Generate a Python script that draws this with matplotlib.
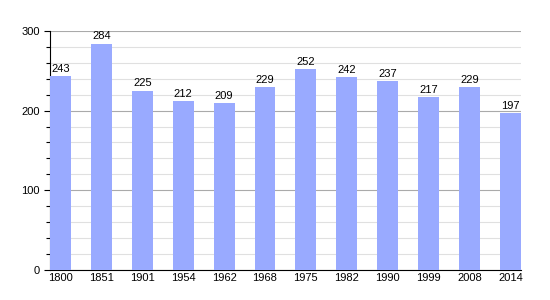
import numpy as np
from matplotlib import pyplot as plt

plt.rcParams['font.family'] = ['Liberation Sans', 'DejaVu Sans']

years = ['1800', '1851', '1901', '1954', '1962', '1968', '1975', '1982', '1990', '1999', '2008', '2014']
population = [243, 284, 225, 212, 209, 229, 252, 242, 237, 217, 229, 197]

fig = plt.figure(figsize=(5.5, 3), dpi=100)
ax = fig.add_axes([0.091, 0.1, 0.856, 0.797])

x = np.arange(len(years))
w = 0.51
ax.bar(x, population, width=w, color='#99aaff', zorder=3)
for xi, v in zip(x, population):
    ax.text(xi, v + 3, str(v), ha='center', va='bottom', fontsize=8, zorder=4)

ax.set_xlim(-w / 2, len(years) - 1 + w / 2)
ax.set_ylim(0, 300)
ax.set_yticks([0, 100, 200, 300])
ax.set_yticks(np.arange(0, 301, 20), minor=True)
ax.set_xticks(x)
ax.set_xticklabels(years)
ax.tick_params(axis='both', labelsize=8, length=4, width=0.8)
ax.tick_params(axis='y', which='minor', length=3, width=0.8)
ax.tick_params(axis='x', length=0, pad=2)

ax.grid(axis='y', which='major', color='#aaaaaa', linewidth=0.8, zorder=0)
ax.grid(axis='y', which='minor', color='#e0e0e0', linewidth=0.8, zorder=0)
for s in ['top', 'right']:
    ax.spines[s].set_visible(False)

plt.savefig('out.png')
